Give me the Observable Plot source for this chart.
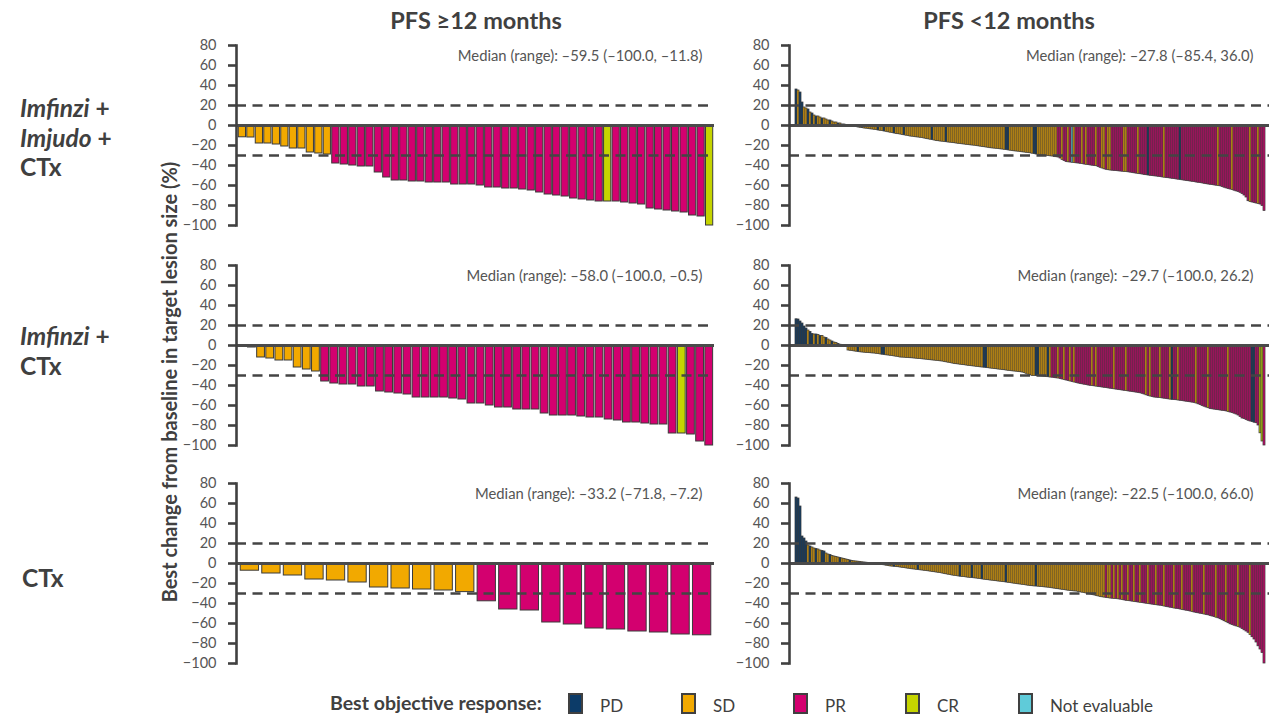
<!DOCTYPE html>
<html>
<head>
<meta charset="utf-8">
<script src="https://cdn.jsdelivr.net/npm/d3@7"></script>
<script src="https://cdn.jsdelivr.net/npm/@observablehq/plot@0.6"></script>
<style>
  body { margin: 0; background: #fff; font-family: Lato, "Open Sans", sans-serif; }
  #wrap { position: relative; width: 1269px; height: 716px; overflow: hidden; background: #fff; }
  .abs { position: absolute; white-space: nowrap; }
  .title { font-weight: 700; font-size: 23.5px; line-height: 28px; color: #404040; transform: translateX(-50%); }
  .row { font-weight: 700; font-size: 24.5px; line-height: 29.5px; color: #404040; }
  .row i { font-style: italic; }
  .ytitle { font-weight: 700; font-size: 20px; color: #404040; transform: translate(-50%, -50%) rotate(-90deg); }
  .leg { font-size: 17px; color: #404040; line-height: 20px; }
  .legt { font-weight: 700; font-size: 19.5px; color: #404040; line-height: 24px; }
  .sw { width: 15px; height: 21px; box-sizing: border-box; border: 2.5px solid #404040; }
</style>
</head>
<body>
<div id="wrap"></div>
<script>
// ---------- data ----------
const columnTitles = ["PFS ≥12 months", "PFS <12 months"];
const yTicks = [80, 60, 40, 20, 0, -20, -40, -60, -80, -100];
const responseCodes = ["D", "S", "R", "C", "N"];
const responseNames = ["PD", "SD", "PR", "CR", "Not evaluable"];
const responseColors = ["#0c3b68", "#f2a900", "#d3006f", "#c5d400", "#5fcbd9"];

// Imfinzi + Imjudo + CTx
const valsA_ge = [-11.8, -12, -18, -18, -19, -21, -23, -23, -27, -28, -29,
  -38, -39, -40, -41, -41, -47, -52, -55, -55, -56, -56, -57, -57, -57, -59, -59, -59, -60, -62, -62, -63, -63,
  -64, -65, -67, -69, -70, -71, -73, -74, -75, -76, -76, -76, -77, -78, -79, -83, -84, -85, -86, -87, -90, -91, -100];
const respA_ge = "SSSSSSSSSS SRRRRRRRRR RRRRRRRRRR RRRRRRRRRR RRRCRRRRRR RRRRRC";
const medA_ge = "Median (range): –59.5 (–100.0, –11.8)";

const valsA_lt = [
  36, 35, 33, 23, 18, 17, 16, 13, 12, 10,
  9, 9, 8, 7, 7, 6, 5, 5, 4, 3,
  3, 2, 2, 1, 1, 0.5, 0.3, 0, -0.2, -0.5,
  -1, -2, -2.3, -2.6, -3, -3.2, -3.5, -3.8, -4, -4.3,
  -4.6, -5, -5.3, -5.6, -6, -6.3, -6.8, -7.2, -7.6, -8,
  -8.4, -8.7, -9, -9.5, -9.8, -10.2, -10.5, -11, -11.2, -11.5,
  -11.8, -12, -12.3, -12.6, -13, -13.4, -13.8, -14.2, -14.6, -15,
  -15.5, -15.7, -16, -16.2, -16.4, -16.7, -17, -17.2, -17.4, -17.7,
  -18, -18.3, -18.5, -18.8, -19, -19.3, -19.5, -19.8, -20, -20.2,
  -20.5, -20.8, -21.1, -21.4, -21.7, -22, -22.3, -22.7, -22.9, -23.1,
  -23.3, -23.5, -23.8, -24, -24.3, -24.6, -24.9, -25.2, -25.5, -25.8,
  -26, -26.2, -26.5, -26.8, -27, -27.3, -27.6, -27.8, -28.2, -28.6,
  -29, -29.3, -29.6, -29.9, -30.1, -30.3, -30.6, -30.8, -31, -31.3,
  -31.7, -32, -33, -34.5, -35.5, -36.5, -36.8, -37, -37.3, -37.6,
  -37.8, -38, -38.3, -38.6, -39, -39.3, -39.6, -39.9, -40.2, -40.5,
  -40.7, -41.5, -42.3, -43, -43.8, -44.3, -44.7, -45, -45.2, -45.4,
  -45.6, -45.8, -46, -46.2, -46.4, -46.6, -46.8, -47.1, -47.4, -47.8,
  -48.1, -48.4, -48.7, -49, -49.4, -49.7, -50, -50.3, -50.6, -50.8,
  -51, -51.3, -51.6, -51.9, -52.2, -52.5, -52.7, -53, -53.3, -53.6,
  -53.9, -54.2, -54.5, -54.8, -55.1, -55.4, -55.7, -56, -56.3, -56.6,
  -57, -57.3, -57.6, -57.9, -58.3, -58.7, -59, -59.3, -59.6, -59.9,
  -60.2, -60.5, -60.8, -61.5, -62.2, -62.9, -63.5, -64, -64.6, -65.2,
  -65.9, -66.5, -67.3, -68.5, -70, -72, -75.7, -76.5, -77, -77.5,
  -78, -78.5, -79, -80.5, -85.4];
const respA_lt = "DSDDSSDSDS DSSDSSSDSS SDSSSSDSSS SSSDSSSSSS SDSSDSSSSD SSSSDSSSSS SSSSSSSSDS SSSSSDSSSS SSSSSSSSSS SSSSSSSSSS SSSSSDDSSS SSSSSSSSSD DSSSSSSSSS SRRSRRSRNS RRRSRSRRRR SRRSSRSSRR RRRRSSRRRR RSRRRRDRRR RRRRSRRRRR RRDRRRRRRR RRRRRRRRRR RSRRRRRRSR RRRRRRRSRR RSRRR";
const medA_lt = "Median (range): –27.8 (–85.4, 36.0)";

// Imfinzi + CTx
const valsB_ge = [-0.5, -2, -12, -13, -15, -15, -22, -24, -26,
  -36, -38, -39, -39, -41, -41, -46, -47, -48, -49, -52, -52, -52, -52, -53, -54, -58, -58, -60, -62, -62,
  -64, -64, -64, -68, -70, -70, -70, -71, -72, -72, -74, -75, -77, -77, -78, -79, -79, -88, -88, -89, -96, -100];
const respB_ge = "SSSSSSSSSR RRRRRRRRRR RRRRRRRRRR RRRRRRRRRR RRRRRRRRCR RR";
const medB_ge = "Median (range): –58.0 (–100.0, –0.5)";

const valsB_lt = [
  26.2, 26, 24, 22, 19, 17, 15, 13.5, 11.5, 11,
  11, 10.5, 9.5, 9.5, 8, 7.5, 6, 5, 4, 3,
  2.5, 1.5, 0.8, 0.4, 0.2, 0, -5, -5.3, -5.6, -5.9,
  -6.2, -6.5, -6.8, -7, -7.2, -7.4, -7.6, -7.7, -7.9, -8,
  -8.3, -8.6, -8.9, -9.2, -9.5, -9.8, -10, -10.3, -10.6, -10.9,
  -11.2, -11.5, -12, -12.1, -12.2, -12.4, -12.5, -12.7, -12.8, -13,
  -13.2, -13.4, -13.6, -13.8, -14, -14.2, -14.5, -14.7, -14.9, -15.1,
  -15.3, -15.5, -15.8, -16, -16.4, -16.8, -17.2, -17.6, -18, -18.4,
  -18.7, -18.9, -19.2, -19.5, -19.7, -20, -20.3, -20.5, -20.8, -21,
  -21.3, -21.5, -21.8, -22, -22.2, -22.5, -22.7, -23, -23.2, -23.5,
  -23.7, -24, -24.2, -24.5, -24.7, -25, -25.3, -25.5, -25.8, -26,
  -26.2, -26.5, -26.7, -27, -27.5, -28.3, -29.2, -29.7, -30.4, -30.5,
  -30.6, -30.7, -30.8, -31, -31.2, -31.5, -31.7, -32, -32.2, -32.5,
  -32.8, -33, -33.5, -34, -34.5, -35, -35.5, -36, -36.5, -37,
  -37.5, -38, -38.4, -38.8, -39.2, -39.6, -40, -40.3, -40.5, -40.8,
  -41.1, -41.4, -41.7, -42, -42.3, -42.6, -42.9, -43.2, -43.5, -43.8,
  -44.1, -44.4, -44.7, -45, -45.3, -45.6, -45.9, -46.2, -46.5, -46.8,
  -47.1, -47.4, -47.8, -48.3, -49, -49.8, -50.5, -51, -51.5, -52,
  -52.2, -52.4, -52.6, -52.9, -53.2, -53.5, -53.8, -54.1, -54.4, -54.6,
  -54.7, -55, -55.3, -55.6, -55.9, -56.2, -56.5, -56.8, -57.1, -57.4,
  -58, -58.8, -59.6, -60.4, -61.2, -62, -62.7, -63.5, -63.8, -64.1,
  -64.4, -64.7, -65, -65.3, -65.6, -65.9, -66.5, -67, -67.6, -68.2,
  -69, -70, -71.5, -73, -73.6, -74.5, -75.3, -76, -76.6, -77.2,
  -77.7, -80, -87.8, -96, -100];
const respB_lt = "DDDDDDSDDS DSDSSDSSDS SDSSSSSSSS SDSSSSSSSS SSSDDSSSSS SSSSSSSSSS SSSSSSSSSS SSSSSSSSSS SSSSSSSSSS SSSSDDSSSS SSSSSSSSSS SSSSSSSSSS DDSSSSDSRR RSRRSRRSRS RRRRRRRRSR SRRRRRRRRS RRRRRSRRRR RRRRRSRSRR RRSRRRRSDR RSRRRRRRRR SRRRRRSRRR RRRRRRSRRR RRRRRRRRDD RRCCR";
const medB_lt = "Median (range): –29.7 (–100.0, 26.2)";

// CTx
const valsC_ge = [-7.2, -10, -12, -16, -17, -19, -24, -25, -26, -27, -28.6,
  -37.8, -46, -47, -59, -61, -65, -66, -68, -69, -71, -71.8];
const respC_ge = "SSSSSSSSSS SRRRRRRRRR RR";
const medC_ge = "Median (range): –33.2 (–71.8, –7.2)";

const valsC_lt = [
  66, 65, 57, 27, 25, 22, 18, 17, 16, 15,
  14.5, 14, 13, 12.5, 12, 10, 9, 8.5, 7.5, 7,
  6.5, 6, 5.5, 5, 4.5, 4, 3.5, 3, 2.5, 2.2,
  2, 1.8, 1.5, 1.2, 1, 0.8, 0.5, 0.4, 0.2, 0,
  -0.3, -0.6, -1, -1.4, -1.8, -2.2, -2.6, -2.9, -3.1, -3.3,
  -3.5, -3.7, -4, -4.3, -4.6, -4.9, -5.2, -5.5, -5.8, -6,
  -6.3, -6.5, -6.8, -7, -7.3, -7.5, -7.8, -8.1, -8.4, -8.7,
  -9, -9.3, -9.6, -10, -10.4, -10.8, -11.2, -11.6, -12, -12.3,
  -12.6, -12.9, -13.2, -13.4, -13.6, -13.9, -14.2, -14.4, -14.6, -14.8,
  -15, -15.3, -15.6, -15.9, -16.2, -16.4, -16.7, -17, -17.2, -17.5,
  -17.7, -18, -18.2, -18.5, -18.7, -19, -19.3, -19.6, -19.9, -20.2,
  -20.5, -20.8, -21, -21.3, -21.6, -21.9, -22.2, -22.5, -22.7, -22.9,
  -23, -23.2, -23.4, -23.6, -23.8, -24, -24.2, -24.5, -24.8, -25.1,
  -25.4, -25.7, -26, -26.3, -26.6, -26.9, -27.2, -27.5, -27.7, -27.9,
  -28, -28.4, -28.8, -29.2, -29.6, -30, -30.4, -30.9, -31.4, -31.9,
  -32.4, -32.9, -33.4, -33.8, -34.1, -34.4, -34.7, -35, -35.2, -35.4,
  -35.5, -35.8, -36.1, -36.5, -36.9, -37.3, -37.6, -37.8, -38.1, -38.4,
  -38.7, -39, -39.3, -39.6, -39.9, -40.2, -40.5, -40.8, -41.1, -41.4,
  -41.7, -42, -42.2, -42.6, -43, -43.4, -43.8, -44.2, -44.6, -45,
  -45.3, -45.6, -46, -46.4, -46.8, -47.2, -47.6, -48, -48.5, -49,
  -49.4, -49.8, -50.2, -50.6, -51, -51.4, -51.8, -52.4, -53, -53.6,
  -54.2, -54.8, -55.7, -56.7, -57.7, -58.7, -59.7, -60.8, -61.5, -62.2,
  -62.9, -63.5, -64.2, -65.5, -66.8, -68, -69.3, -71.5, -73.7, -76,
  -79, -82.8, -86, -89.5, -100];
const respC_lt = "DDDDDDSDSS DSSDDSSDSS SSDSSSSDSS SSSSDSSSSS SSSSSSSSSD SSSSSSSSSS SDSSSSSSSS SSSSSSSSSS SSDSSSSSDS SSSDSSSSSS SSSSSDSSSS SSSSSSSSSS DSSSSSSSSS SSSSSSSSSS SSSSSSSSSS SSSSSRSSRS RSRSRRSRRS RRSRRRSRRR SRRRSRRRRS RRRSRRRRSR RRRRSRRRRR SRRRRSRRRR RSRRRRRSRR RRRRR";
const medC_lt = "Median (range): –22.5 (–100.0, 66.0)";

// ---------- layout ----------
const wrap = document.getElementById("wrap");
function addDiv(cls, html, css) {
  const d = document.createElement("div");
  d.className = "abs " + cls;
  d.innerHTML = html;
  Object.assign(d.style, css);
  wrap.appendChild(d);
  return d;
}

addDiv("title", columnTitles[0], {left: "476px", top: "6px"});
addDiv("title", columnTitles[1], {left: "1009px", top: "6px"});
addDiv("row", "<i>Imfinzi</i> +<br><i>Imjudo</i> +<br>CTx", {left: "20px", top: "93px"});
addDiv("row", "<i>Imfinzi</i> +<br>CTx", {left: "20px", top: "321px"});
addDiv("row", "CTx", {left: "22px", top: "563px"});
addDiv("ytitle", "Best change from baseline in target lesion size (%)", {left: "169px", top: "382px"});

const codeToName = Object.fromEntries(responseCodes.map((c, k) => [c, responseNames[k]]));

function panel(vals, respStr, med, col, row) {
  const resp = respStr.replace(/\s/g, "");
  const rows = vals.map((v, i) => ({i, v, r: codeToName[resp[i]] || (v > -30 ? "SD" : "PR")}));
  const left = col === 0;
  const chart = Plot.plot({
    width: left ? 524 : 526,
    height: 200,
    marginTop: 10, marginBottom: 10, marginLeft: 46, marginRight: 0,
    style: {background: "transparent", overflow: "visible", fontFamily: "Lato, 'Open Sans', sans-serif"},
    x: {type: "band", domain: d3.range(vals.length), padding: left ? 0.15 : 0, round: !left,
        insetLeft: left ? 1 : 3, insetRight: left ? 0 : 1, axis: null},
    y: {domain: [-100, 80], axis: null},
    color: {domain: responseNames, range: responseColors},
    marks: [
      Plot.barY(rows, {x: "i", y1: 0, y2: "v", fill: "r",
        stroke: "#3a3a3a", strokeWidth: left ? 1 : 0.75}),
      Plot.ruleY([20, -30], {stroke: "#444", strokeWidth: 2.6, strokeDasharray: "10,6.5"}),
      Plot.ruleY([0], {stroke: "#4a4a4a", strokeWidth: 2.8}),
      Plot.frame({anchor: "left", stroke: "#404040", strokeWidth: 2.6}),
      Plot.axisY({ticks: yTicks, tickSize: 8, tickPadding: 12, fontSize: 14.5,
        stroke: "#404040", fill: "#555", strokeWidth: 2.6, label: null}),
      Plot.text([med], {frameAnchor: "top-right", dx: left ? -12 : -16, dy: 11,
        lineAnchor: "middle", fontSize: 14.8, fill: "#555"})
    ]
  });
  chart.style.position = "absolute";
  chart.style.left = (left ? 190 : 743) + "px";
  chart.style.top = [35, 255, 473][row] + "px";
  wrap.appendChild(chart);
}

panel(valsA_ge, respA_ge, medA_ge, 0, 0);
panel(valsA_lt, respA_lt, medA_lt, 1, 0);
panel(valsB_ge, respB_ge, medB_ge, 0, 1);
panel(valsB_lt, respB_lt, medB_lt, 1, 1);
panel(valsC_ge, respC_ge, medC_ge, 0, 2);
panel(valsC_lt, respC_lt, medC_lt, 1, 2);

// legend
addDiv("legt", "Best objective response:", {left: "330px", top: "691px"});
const legX = [568, 681, 793, 905, 1018];
responseNames.forEach((n, k) => {
  addDiv("sw", "", {left: legX[k] + "px", top: "693px", background: responseColors[k]});
  addDiv("leg", n, {left: (legX[k] + 32) + "px", top: "696px"});
});
</script>
</body>
</html>
